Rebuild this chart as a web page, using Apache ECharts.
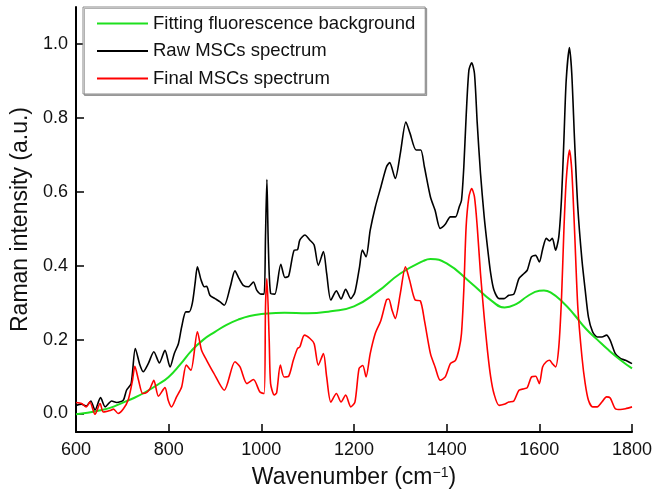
<!DOCTYPE html>
<html>
<head>
<meta charset="utf-8">
<script src="https://cdn.jsdelivr.net/npm/echarts@6/dist/echarts.min.js"></script>
<style>
html,body{margin:0;padding:0;background:#fff;}
#chart{width:652px;height:493px;}
</style>
</head>
<body>
<div id="chart"></div>
<script>
// Series names
const seriesNames = ['Fitting fluorescence background', 'Raw MSCs spectrum', 'Final MSCs spectrum'];

// Fitting fluorescence background [wavenumber, intensity]
const backgroundData = [
[600,-0.002],[625,0.002],[650,0.008],[675,0.016],[700,0.029],[725,0.042],[750,0.058],[775,0.077],
[800,0.099],[825,0.133],[850,0.171],[875,0.200],[900,0.221],[925,0.240],[950,0.254],[975,0.264],
[1000,0.269],[1050,0.273],[1100,0.271],[1150,0.277],[1200,0.290],[1250,0.329],[1300,0.379],[1350,0.413],
[1365,0.418],[1400,0.406],[1450,0.356],[1500,0.302],[1525,0.287],[1550,0.296],[1575,0.318],[1600,0.332],
[1610,0.333],[1625,0.327],[1650,0.302],[1675,0.268],[1700,0.230],[1725,0.200],[1750,0.171],[1775,0.145],[1800,0.122]
];

// Raw MSCs spectrum [wavenumber, intensity]
const rawData = [
[600,0.022],[612,0.025],[622,0.020],[632,0.034],[641,0.009],[653,0.043],[663,0.018],[677,0.034],[688,0.030],
[702,0.036],[709,0.063],[719,0.081],[728,0.176],[738,0.131],[745,0.113],[756,0.135],[768,0.167],[780,0.137],
[792,0.171],[803,0.126],[812,0.162],[821,0.189],[828,0.234],[837,0.275],[844,0.275],[851,0.298],[857,0.352],
[862,0.397],[870,0.361],[877,0.343],[882,0.344],[889,0.320],[900,0.311],[911,0.302],[920,0.293],[933,0.343],
[943,0.386],[952,0.365],[961,0.347],[972,0.343],[983,0.356],[990,0.334],[1000,0.323],[1006,0.323],[1009,0.480],
[1012,0.633],[1015,0.460],[1020,0.325],[1029,0.323],[1042,0.404],[1051,0.368],[1059,0.372],[1071,0.442],
[1078,0.443],[1083,0.469],[1094,0.483],[1105,0.469],[1114,0.456],[1123,0.401],[1134,0.438],[1141,0.379],
[1150,0.307],[1162,0.332],[1172,0.310],[1182,0.336],[1193,0.311],[1202,0.329],[1212,0.397],[1218,0.442],
[1226,0.424],[1235,0.496],[1246,0.559],[1258,0.613],[1270,0.667],[1277,0.679],[1289,0.636],[1300,0.704],
[1312,0.789],[1321,0.758],[1334,0.713],[1344,0.713],[1352,0.667],[1365,0.586],[1375,0.550],[1386,0.501],
[1397,0.512],[1408,0.532],[1419,0.532],[1427,0.559],[1432,0.577],[1437,0.667],[1442,0.803],[1448,0.929],
[1454,0.949],[1460,0.920],[1466,0.785],[1473,0.650],[1481,0.532],[1488,0.451],[1495,0.379],[1502,0.334],
[1513,0.311],[1524,0.311],[1534,0.320],[1545,0.323],[1556,0.365],[1567,0.379],[1574,0.388],[1583,0.424],
[1592,0.428],[1600,0.410],[1607,0.444],[1615,0.474],[1622,0.467],[1628,0.474],[1635,0.442],[1642,0.478],
[1648,0.586],[1653,0.740],[1658,0.902],[1665,0.990],[1670,0.920],[1676,0.740],[1683,0.559],[1692,0.415],
[1699,0.334],[1706,0.261],[1715,0.221],[1725,0.207],[1735,0.207],[1745,0.212],[1753,0.198],[1764,0.162],
[1775,0.149],[1786,0.144],[1800,0.135]
];

// Final MSCs spectrum [wavenumber, intensity]
const finalData = [
[600,0.030],[612,0.027],[622,0.018],[630,0.031],[641,-0.002],[652,0.027],[659,0.004],[673,0.008],[681,0.012],
[691,0.000],[702,0.012],[713,0.038],[722,0.090],[727,0.128],[735,0.090],[744,0.054],[753,0.057],[760,0.068],
[768,0.090],[778,0.047],[792,0.070],[799,0.036],[806,0.018],[817,0.045],[828,0.072],[838,0.131],[848,0.117],
[862,0.221],[871,0.171],[882,0.144],[897,0.110],[920,0.063],[943,0.140],[954,0.126],[969,0.081],[983,0.092],
[997,0.058],[1006,0.054],[1009,0.289],[1012,0.365],[1017,0.198],[1020,0.081],[1028,0.050],[1033,0.056],
[1041,0.131],[1049,0.099],[1059,0.101],[1069,0.144],[1078,0.176],[1083,0.180],[1093,0.212],[1105,0.203],
[1114,0.189],[1123,0.131],[1134,0.162],[1141,0.099],[1150,0.031],[1162,0.054],[1172,0.031],[1182,0.050],
[1193,0.018],[1202,0.031],[1211,0.122],[1219,0.130],[1226,0.099],[1235,0.162],[1246,0.217],[1258,0.252],
[1270,0.307],[1275,0.310],[1282,0.280],[1289,0.257],[1300,0.325],[1311,0.397],[1320,0.361],[1332,0.307],
[1343,0.305],[1352,0.252],[1365,0.162],[1375,0.126],[1386,0.090],[1397,0.099],[1408,0.135],[1419,0.144],
[1427,0.176],[1432,0.217],[1437,0.334],[1442,0.505],[1448,0.586],[1454,0.609],[1460,0.586],[1466,0.505],
[1473,0.379],[1481,0.261],[1488,0.171],[1495,0.099],[1502,0.054],[1513,0.022],[1524,0.025],[1534,0.031],
[1545,0.034],[1556,0.063],[1567,0.067],[1574,0.070],[1583,0.099],[1592,0.101],[1600,0.081],[1607,0.126],
[1615,0.140],[1622,0.144],[1628,0.135],[1635,0.126],[1642,0.180],[1648,0.316],[1653,0.496],[1658,0.631],
[1665,0.713],[1670,0.658],[1676,0.496],[1683,0.289],[1692,0.153],[1699,0.081],[1706,0.036],[1715,0.018],
[1725,0.018],[1735,0.031],[1745,0.045],[1753,0.042],[1764,0.013],[1775,0.011],[1786,0.013],[1800,0.018]
];

// Tick values
const xTicks = [600, 800, 1000, 1200, 1400, 1600, 1800];
const yTicks = [0, 0.2, 0.4, 0.6, 0.8, 1.0];

const FONT = '"Liberation Sans", Arial, sans-serif';
const chart = echarts.init(document.getElementById('chart'), null, {renderer: 'canvas'});

chart.setOption({
  animation: false,
  backgroundColor: '#fff',
  grid: {left: 76, right: 20, top: 7, bottom: 61, containLabel: false, outerBoundsMode: 'none'},
  legend: {
    orient: 'vertical',
    left: 83, top: 7,
    padding: [7, 10, 6, 13],
    itemWidth: 51, itemHeight: 14, itemGap: 8.5,
    backgroundColor: '#fff',
    borderColor: '#8a8a8a', borderWidth: 1,
    shadowColor: 'rgba(0,0,0,0.3)', shadowOffsetX: 1.5, shadowOffsetY: 1.5, shadowBlur: 0,
    itemStyle: {opacity: 0, color: 'rgba(0,0,0,0)', borderWidth: 0},
    textStyle: {fontFamily: FONT, fontSize: 18.5, color: '#111'},
    data: seriesNames
  },
  xAxis: {
    type: 'value', min: 600, max: 1800, interval: 200,
    name: 'Wavenumber (cm{sup|−1})',
    nameLocation: 'middle', nameGap: 34,
    nameTextStyle: {
      fontFamily: FONT, fontSize: 23, color: '#111',
      rich: {sup: {fontFamily: FONT, fontSize: 14, color: '#111', verticalAlign: 'top', padding: [0, 0, 10, 0]}}
    },
    axisLine: {show: true, onZero: false, lineStyle: {color: '#000', width: 2}},
    axisTick: {show: true, inside: true, length: 8, lineStyle: {color: '#000', width: 1.5}, customValues: xTicks},
    axisLabel: {fontFamily: FONT, fontSize: 18, color: '#111', margin: 9, customValues: xTicks,
      formatter: v => String(v)},
    splitLine: {show: false}
  },
  yAxis: {
    type: 'value', min: -0.05, max: 1.1,
    name: 'Raman intensity (a.u.)',
    nameLocation: 'middle', nameGap: 44, nameRotate: 90,
    nameTextStyle: {fontFamily: FONT, fontSize: 23, color: '#111'},
    axisLine: {show: true, onZero: false, lineStyle: {color: '#000', width: 2}},
    axisTick: {show: true, inside: true, length: 8, lineStyle: {color: '#000', width: 1.5}, customValues: yTicks},
    axisLabel: {fontFamily: FONT, fontSize: 18, color: '#111', margin: 8, customValues: yTicks,
      formatter: v => v.toFixed(1)},
    splitLine: {show: false}
  },
  series: [
    {name: seriesNames[0], type: 'line', data: backgroundData, symbol: 'none', smooth: true,
      lineStyle: {color: '#1ee01e', width: 2}, itemStyle: {color: '#1ee01e'}, z: 3},
    {name: seriesNames[1], type: 'line', data: rawData, symbol: 'none', smooth: 0.25,
      lineStyle: {color: '#000', width: 1.6}, itemStyle: {color: '#000'}, z: 2},
    {name: seriesNames[2], type: 'line', data: finalData, symbol: 'none', smooth: 0.25,
      lineStyle: {color: '#ff0000', width: 1.6}, itemStyle: {color: '#ff0000'}, z: 4}
  ]
});
</script>
</body>
</html>
